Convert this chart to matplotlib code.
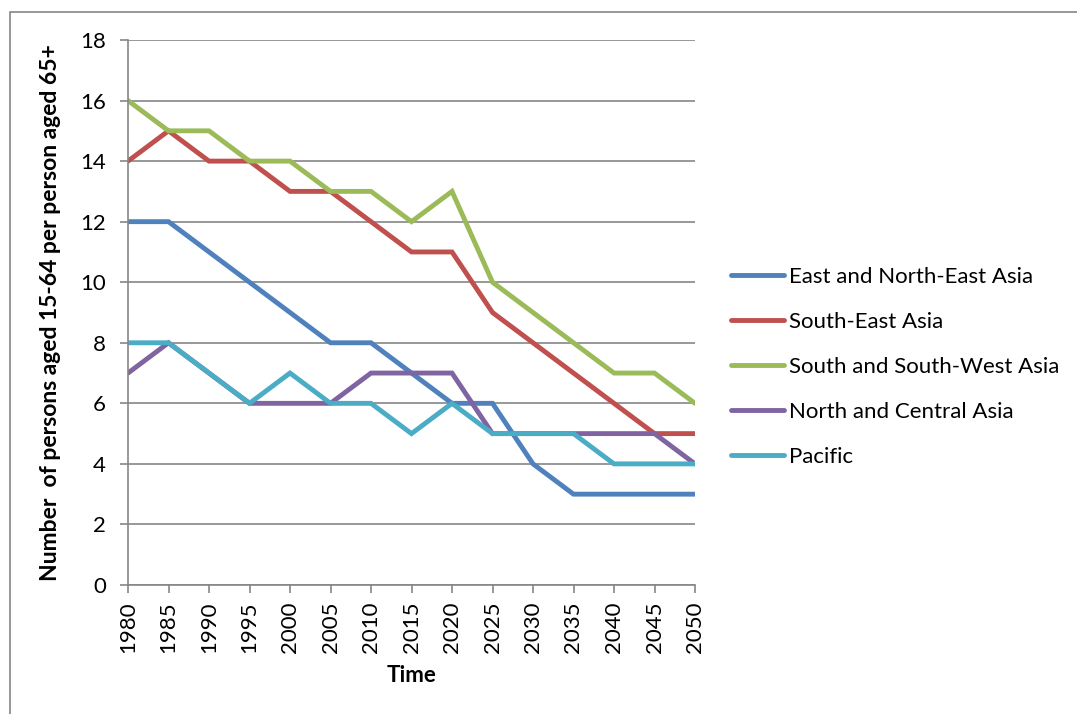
import matplotlib.pyplot as plt
from matplotlib.patches import Rectangle

plt.rcParams["font.family"] = ["Lato", "DejaVu Sans"]

years = [1980, 1985, 1990, 1995, 2000, 2005, 2010, 2015, 2020, 2025, 2030, 2035, 2040, 2045, 2050]
east_ne_asia = [12, 12, 11, 10, 9, 8, 8, 7, 6, 6, 4, 3, 3, 3, 3]
south_east_asia = [14, 15, 14, 14, 13, 13, 12, 11, 11, 9, 8, 7, 6, 5, 5]
south_sw_asia = [16, 15, 15, 14, 14, 13, 13, 12, 13, 10, 9, 8, 7, 7, 6]
north_central_asia = [7, 8, 7, 6, 6, 6, 7, 7, 7, 5, 5, 5, 5, 5, 4]
pacific = [8, 8, 7, 6, 7, 6, 6, 5, 6, 5, 5, 5, 4, 4, 4]

series = [
    ("East and North-East Asia", east_ne_asia, "#4F81BD"),
    ("South-East Asia", south_east_asia, "#C0504D"),
    ("South and South-West Asia", south_sw_asia, "#9BBB59"),
    ("North and Central Asia", north_central_asia, "#8064A2"),
    ("Pacific", pacific, "#4BACC6"),
]

fig = plt.figure(figsize=(10.77, 7.14), dpi=100)
fig.patches.append(Rectangle((10 / 1077, -0.1), 1.2, 1.1 - 12 / 714, transform=fig.transFigure,
                             fill=False, edgecolor="#868686", linewidth=1.2))
ax = fig.add_axes([128 / 1077, 1 - 585 / 714, 567 / 1077, 545 / 714])

x = list(range(len(years)))
for name, vals, color in series:
    ax.plot(x, vals, color=color, linewidth=3.5, label=name, solid_capstyle="round", solid_joinstyle="miter")

ax.set_xlim(0, len(years) - 1)
ax.set_ylim(0, 18)
ax.set_yticks(range(0, 19, 2))
ax.set_xticks(x)
ax.set_xticklabels([str(y) for y in years], rotation=90)
ax.yaxis.grid(True, color="#868686", linewidth=1.2)
ax.set_axisbelow(True)

for side in ["top", "right"]:
    ax.spines[side].set_visible(False)
for side in ["left", "bottom"]:
    ax.spines[side].set_color("#868686")
    ax.spines[side].set_linewidth(1.2)

fs = 16
ax.tick_params(axis="y", length=6, width=1.2, color="#868686", pad=10, labelsize=fs)
ax.tick_params(axis="x", length=6, width=1.2, color="#868686", pad=6, labelsize=fs)

ax.set_ylabel("Number  of persons aged 15-64 per person aged 65+", fontsize=16.5, fontweight="bold")
ax.yaxis.set_label_coords(-0.118, 0.5)
ax.set_xlabel("Time", fontsize=fs, fontweight="bold")
ax.xaxis.set_label_coords(0.5, -0.147)

ax.legend(loc="center left", bbox_to_anchor=(1.028, 0.40), frameon=False, fontsize=fs,
          handlelength=2.4, handletextpad=0.2, labelspacing=1.12)

fig.savefig("out.png", dpi=100)
